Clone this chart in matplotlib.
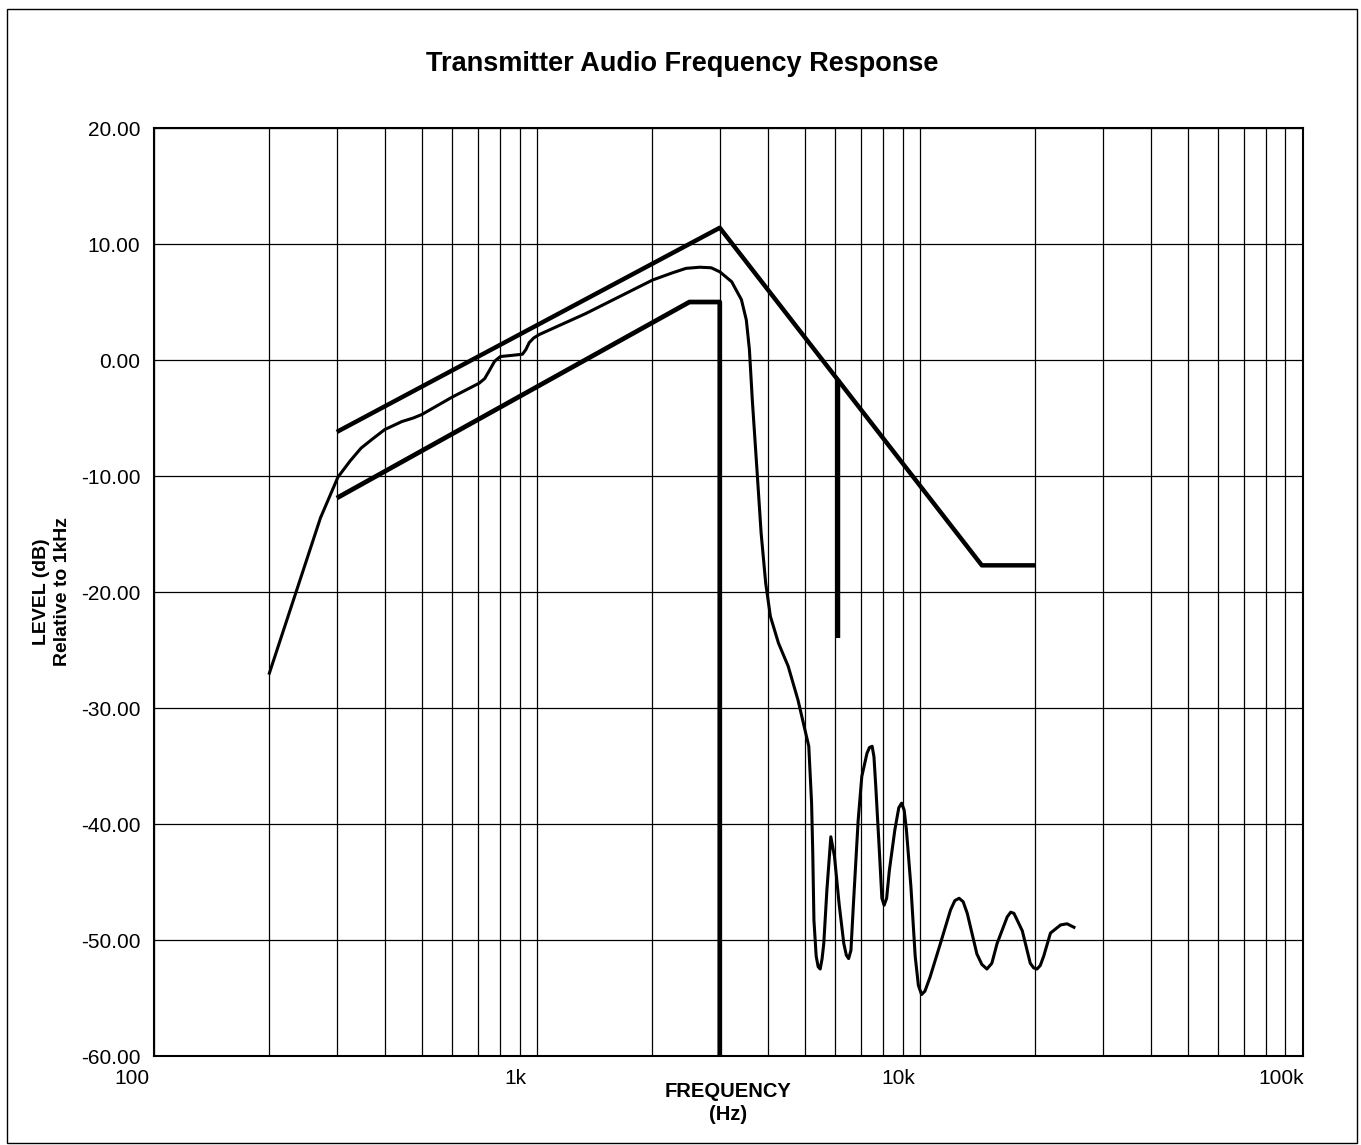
"""
Transmitter audio frequency response with upper/lower limit masks
"""
import numpy as np
import matplotlib
matplotlib.use('Agg')
from matplotlib import pyplot as plt
from matplotlib.ticker import LogLocator, NullFormatter
import matplotlib.transforms as mtransforms
from matplotlib.patches import Rectangle

# measured response (Hz, dB rel. 1 kHz)
resp_freq = [200, 272, 302, 325, 347, 372, 400, 444, 475, 500, 600, 706, 730, 751, 775, 802,
             860, 916, 935, 954, 980, 1014,
             1339, 2004, 2250, 2447, 2661, 2850, 3002, 3222, 3417, 3519, 3585, 3648, 3747,
             3846, 3954, 4067, 4269, 4526, 4800,
             5123, 5210, 5247, 5284, 5356, 5420, 5487, 5550, 5606, 5712, 5849, 5979, 6148,
             6323, 6420, 6509, 6600, 6700, 6893, 7046, 7269, 7380, 7498, 7580, 7665, 7836,
             7950, 8059, 8180, 8315, 8595, 8800, 8951, 9090, 9214, 9466, 9713, 9900, 10092,
             10300, 10620, 11302, 12014, 12330, 12648, 12960, 13283, 14075, 14500, 14950,
             15400, 15891, 16892, 17250, 17587, 18490, 19400, 19800, 20195, 20600, 21028,
             21904, 23280, 24200, 25229]
resp_db = [-27.0, -13.6, -10.1, -8.7, -7.6, -6.8, -6.0, -5.3, -5.0, -4.7, -3.2, -2.0, -1.6, -0.9,
           -0.1, 0.3, 0.4, 0.5, 0.9, 1.5, 1.9, 2.2,
           4.0, 6.9, 7.5, 7.9, 8.0, 7.95, 7.6, 6.75, 5.2, 3.45, 0.9, -3.45, -9.2,
           -14.9, -19.25, -22.1, -24.4, -26.4, -29.3,
           -33.3, -38.2, -42.5, -48.3, -51.4, -52.3, -52.5, -51.6, -50.3, -45.7, -41.1, -42.8,
           -46.9, -50.3, -51.3, -51.6, -50.9, -46.9, -39.7, -35.9, -33.9, -33.4, -33.3, -34.2,
           -36.8, -42.5, -46.4, -47.0, -46.4, -44.0, -40.5, -38.6, -38.2, -38.8, -40.5, -45.4,
           -51.4, -53.9, -54.7, -54.4, -53.2, -50.3, -47.4, -46.6, -46.4, -46.7, -47.7, -51.2,
           -52.1, -52.5, -52.0, -50.3, -48.0, -47.6, -47.7, -49.2, -52.0, -52.4, -52.5, -52.2,
           -51.4, -49.4, -48.7, -48.6, -48.9]

# limit masks
upper_freq = [300, 3000, 14500, 20000]
upper_db = [-6.2, 11.4, -17.7, -17.7]
lower_freq = [300, 2500, 3000, 3000]
lower_db = [-11.9, 5.0, 5.0, -60.0]
notch_freq = [6100, 6100]
notch_db = [-1.6, -24.0]

x_ticks = [100, 1000, 10000, 100000]
x_tick_labels = ['100', '1k', '10k', '100k']
y_ticks = [-60, -50, -40, -30, -20, -10, 0, 10, 20]

plt.rcParams['font.family'] = ['Liberation Sans', 'DejaVu Sans']

fig = plt.figure(figsize=(13.61, 11.45), dpi=100)
ax = fig.add_axes([0.1132, 0.0777, 0.8442, 0.8105])

ax.plot(resp_freq, resp_db, color='black', lw=2.2, solid_joinstyle='round')
ax.plot(upper_freq, upper_db, color='black', lw=3.2, solid_capstyle='butt')
ax.plot(lower_freq, lower_db, color='black', lw=3.4, solid_capstyle='butt')
ax.plot(notch_freq, notch_db, color='black', lw=3.2, solid_capstyle='butt')

ax.set_xscale('log')
ax.set_xlim(100, 100000)
ax.set_ylim(-60, 20)
ax.set_xticks(x_ticks)
ax.set_xticklabels(x_tick_labels)
ax.xaxis.set_minor_locator(LogLocator(base=10, subs=np.arange(2, 10)))
ax.xaxis.set_minor_formatter(NullFormatter())
ax.set_yticks(y_ticks)
ax.set_yticklabels([f'{v:.2f}' for v in y_ticks])

ax.grid(which='both', axis='x', color='black', lw=0.9)
ax.grid(which='major', axis='y', color='black', lw=0.9)
ax.tick_params(which='both', length=0)
ax.tick_params(axis='y', pad=10, labelsize=15)
ax.tick_params(axis='x', pad=9, labelsize=15)
for sp in ax.spines.values():
    sp.set_linewidth(1.5)

# tick labels sit a bit left of their gridlines in the original
offset = mtransforms.ScaledTranslation(-0.22, 0, fig.dpi_scale_trans)
for lab in ax.get_xticklabels():
    lab.set_transform(lab.get_transform() + offset)

fig.text(0.501, 1 - 64 / 1145, 'Transmitter Audio Frequency Response',
         fontsize=19.5, fontweight='bold', ha='center', va='center')
fig.text(52 / 1361, 1 - 592 / 1145, 'LEVEL (dB)\nRelative to 1kHz', rotation=90,
         fontsize=14, fontweight='bold', ha='center', va='center',
         linespacing=1.35, multialignment='center')
fig.text(728 / 1361, 1 - 1103 / 1145, 'FREQUENCY\n(Hz)', fontsize=14.5,
         fontweight='bold', ha='center', va='center', linespacing=1.3,
         multialignment='center')

fig.add_artist(Rectangle((0.005, 0.002), 0.992, 0.99, transform=fig.transFigure,
                         fill=False, lw=1, ec='black'))

fig.savefig('out.png', dpi=100)
